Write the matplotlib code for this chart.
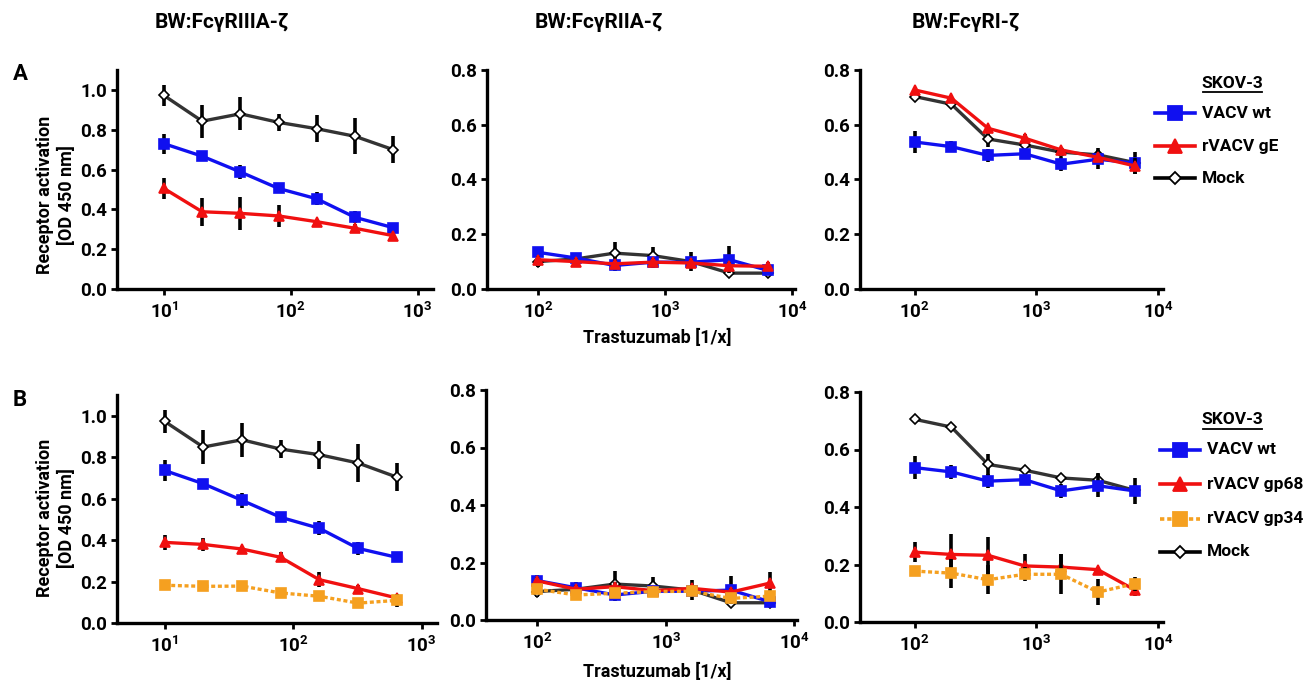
import numpy as np
import matplotlib
matplotlib.use("Agg")
import matplotlib.pyplot as plt
from matplotlib.lines import Line2D
from matplotlib.ticker import FixedLocator, NullLocator

FONT = 'Roboto'
plt.rcParams['font.family'] = [FONT, 'DejaVu Sans']
plt.rcParams['font.weight'] = 'bold'
plt.rcParams['mathtext.fontset'] = 'custom'
plt.rcParams['mathtext.rm'] = FONT + ':bold'
plt.rcParams['mathtext.bf'] = FONT + ':bold'
plt.rcParams['mathtext.it'] = FONT + ':bold'

# dilutions (1/x)
dil_left = [10, 20, 40, 80, 160, 320, 640]
dil_right = [100, 200, 400, 800, 1600, 3200, 6400]

titles = ["BW:FcγRIIIA-ζ", "BW:FcγRIIA-ζ", "BW:FcγRI-ζ"]

# ---- panel A ----
A_wt = [[0.730, 0.667, 0.588, 0.505, 0.453, 0.360, 0.308],
        [0.134, 0.113, 0.086, 0.098, 0.098, 0.107, 0.068],
        [0.537, 0.520, 0.488, 0.494, 0.456, 0.474, 0.460]]
A_wt_err = [[0.050, 0.020, 0.035, 0.025, 0.033, 0.030, 0.010],
            [0.020, 0.020, 0.020, 0.020, 0.020, 0.050, 0.010],
            [0.040, 0.020, 0.025, 0.010, 0.025, 0.035, 0.040]]
A_gE = [[0.505, 0.388, 0.380, 0.367, 0.338, 0.305, 0.268],
        [0.107, 0.100, 0.092, 0.098, 0.095, 0.085, 0.083],
        [0.727, 0.697, 0.587, 0.551, 0.508, 0.481, 0.450]]
A_gE_err = [[0.055, 0.070, 0.083, 0.055, 0.010, 0.020, 0.010],
            [0.015, 0.015, 0.015, 0.015, 0.015, 0.015, 0.015],
            [0.010, 0.010, 0.010, 0.015, 0.010, 0.010, 0.030]]
A_mock = [[0.972, 0.843, 0.880, 0.837, 0.805, 0.767, 0.700],
          [0.100, 0.110, 0.131, 0.122, 0.100, 0.058, 0.058],
          [0.703, 0.675, 0.548, 0.526, 0.500, 0.490, 0.462]]
A_mock_err = [[0.055, 0.083, 0.083, 0.043, 0.067, 0.090, 0.067],
              [0.020, 0.020, 0.040, 0.030, 0.035, 0.010, 0.005],
              [0.010, 0.010, 0.030, 0.010, 0.010, 0.025, 0.010]]

# ---- panel B ----
B_wt = [[0.736, 0.672, 0.592, 0.510, 0.457, 0.360, 0.317],
        [0.137, 0.112, 0.087, 0.100, 0.100, 0.104, 0.064],
        [0.537, 0.522, 0.490, 0.495, 0.456, 0.474, 0.456]]
B_wt_err = [[0.050, 0.020, 0.035, 0.025, 0.033, 0.030, 0.010],
            [0.020, 0.020, 0.020, 0.020, 0.020, 0.050, 0.010],
            [0.040, 0.025, 0.025, 0.010, 0.025, 0.040, 0.045]]
B_gp68 = [[0.389, 0.379, 0.357, 0.317, 0.209, 0.166, 0.121],
          [0.136, 0.107, 0.116, 0.102, 0.110, 0.097, 0.128],
          [0.243, 0.235, 0.232, 0.195, 0.191, 0.182, 0.112]]
B_gp68_err = [[0.035, 0.030, 0.015, 0.025, 0.035, 0.015, 0.020],
              [0.015, 0.015, 0.015, 0.015, 0.015, 0.015, 0.040],
              [0.035, 0.070, 0.065, 0.040, 0.045, 0.010, 0.020]]
B_gp34 = [[0.182, 0.177, 0.178, 0.145, 0.129, 0.096, 0.109],
          [0.107, 0.087, 0.093, 0.099, 0.100, 0.075, 0.083],
          [0.177, 0.170, 0.147, 0.166, 0.166, 0.104, 0.133]]
B_gp34_err = [[0.010, 0.010, 0.010, 0.010, 0.020, 0.025, 0.030],
              [0.015, 0.015, 0.015, 0.015, 0.015, 0.015, 0.015],
              [0.010, 0.050, 0.050, 0.025, 0.070, 0.045, 0.025]]
B_mock = [[0.973, 0.849, 0.884, 0.839, 0.812, 0.772, 0.704],
          [0.099, 0.107, 0.125, 0.118, 0.104, 0.060, 0.060],
          [0.705, 0.678, 0.548, 0.528, 0.501, 0.493, 0.458]]
B_mock_err = [[0.055, 0.083, 0.083, 0.043, 0.067, 0.090, 0.067],
              [0.020, 0.020, 0.045, 0.030, 0.035, 0.010, 0.005],
              [0.010, 0.010, 0.035, 0.010, 0.010, 0.025, 0.010]]

BLUE = "#1010f0"
RED = "#f01010"
ORANGE = "#f5a020"
GREY = "#333333"

W, H = 1305, 683
fig = plt.figure(figsize=(W / 100, H / 100), dpi=100)


def px_axes(x0, y0, x1, y1):
    return fig.add_axes([x0 / W, 1 - y1 / H, (x1 - x0) / W, (y1 - y0) / H])


# pixel boxes (left, top, right, bottom)
boxes_A = [(117, 70, 433, 289), (487, 70, 795, 289), (860, 70, 1163, 289)]
boxes_B = [(117, 395, 437, 623), (486, 390, 797, 620), (860, 392, 1163, 622)]
xlims = [(10 ** 0.63, 10 ** 3.12), (10 ** 1.6, 10 ** 4.02), (10 ** 1.55, 10 ** 4.04)]
ylims = [(0, 1.1), (0, 0.8), (0, 0.8)]


def style(ax, i):
    ax.set_xscale("log")
    ax.set_xlim(*xlims[i])
    ax.set_ylim(*ylims[i])
    for s in ["top", "right"]:
        ax.spines[s].set_visible(False)
    for s in ["left", "bottom"]:
        ax.spines[s].set_linewidth(2.4)
    if i == 0:
        ticks = [10, 100, 1000]
        ax.set_yticks([0, 0.2, 0.4, 0.6, 0.8, 1.0])
    else:
        ticks = [100, 1000, 10000]
        ax.set_yticks([0, 0.2, 0.4, 0.6, 0.8])
    ax.xaxis.set_major_locator(FixedLocator(ticks))
    ax.xaxis.set_minor_locator(NullLocator())
    ax.set_xticklabels([r"$10^{%d}$" % int(np.log10(t)) for t in ticks])
    ax.set_yticklabels(["%.1f" % v for v in ax.get_yticks()])
    ax.tick_params(width=2.0, length=4, labelsize=13.5, pad=3)
    ax.tick_params(axis="x", pad=5)
    for lab in ax.get_yticklabels() + ax.get_xticklabels():
        lab.set_fontweight("bold")


def series(ax, x, y, e, color, marker, ms, ls="-", mfc=None, z=3):
    ax.errorbar(x, y, yerr=e, fmt="none", ecolor="black", elinewidth=2.6,
                capsize=0, zorder=z - 0.5)
    ax.plot(x, y, color=color, linestyle=ls, linewidth=2.4, marker=marker,
            markersize=ms, markerfacecolor=mfc if mfc else color,
            markeredgecolor=color if mfc is None else "black",
            markeredgewidth=1.2, zorder=z)


for i in range(3):
    x = dil_left if i == 0 else dil_right
    ax = px_axes(*boxes_A[i])
    style(ax, i)
    series(ax, x, A_mock[i], A_mock_err[i], GREY, "D", 5, mfc="white", z=3)
    series(ax, x, A_wt[i], A_wt_err[i], BLUE, "s", 7, z=4)
    series(ax, x, A_gE[i], A_gE_err[i], RED, "^", 7, z=5)

    axb = px_axes(*boxes_B[i])
    style(axb, i)
    series(axb, x, B_mock[i], B_mock_err[i], GREY, "D", 5, mfc="white", z=3)
    series(axb, x, B_wt[i], B_wt_err[i], BLUE, "s", 7, z=4)
    series(axb, x, B_gp68[i], B_gp68_err[i], RED, "^", 7, z=5)
    series(axb, x, B_gp34[i], B_gp34_err[i], ORANGE, "s", 7, ls=(0, (1.2, 0.8)), z=6)

# y labels
for yy in [195, 518]:
    fig.text(56 / W, 1 - yy / H, "Receptor activation\n[OD 450 nm]", rotation=90,
             ha="center", va="center", fontsize=13, fontweight="bold",
             linespacing=1.3)

# column titles
for t, cx in zip(titles, [222, 599, 966]):
    fig.text(cx / W, 1 - 22 / H, t, ha="center", va="center", fontsize=15,
             fontweight="bold")

# panel letters
fig.text(20 / W, 1 - 74 / H, "A", ha="center", va="center", fontsize=16, fontweight="bold")
fig.text(20 / W, 1 - 400 / H, "B", ha="center", va="center", fontsize=16, fontweight="bold")

# x labels
for yy in [338, 672]:
    fig.text(657 / W, 1 - yy / H, "Trastuzumab [1/x]", ha="center", va="center",
             fontsize=13, fontweight="bold")


def legend_block(x_handle, y_title, ys, labels, styles):
    fig.text(1232 / W, 1 - y_title / H, "SKOV-3", ha="center", va="center",
             fontsize=12.5, fontweight="bold")
    fig.add_artist(Line2D([1203 / W, 1262 / W], [1 - (y_title + 9) / H] * 2,
                          color="black", linewidth=1.3))
    for yy, lab, st in zip(ys, labels, styles):
        color, marker, ms, ls, mfc, mec = st
        fig.add_artist(Line2D([x_handle / W, (x_handle + 40) / W], [1 - yy / H] * 2,
                              color=color, linewidth=2.6, linestyle=ls))
        fig.add_artist(Line2D([(x_handle + 20) / W], [1 - yy / H], marker=marker,
                              markersize=ms, markerfacecolor=mfc,
                              markeredgecolor=mec, markeredgewidth=1.3,
                              linestyle="none"))
        fig.text((x_handle + 47) / W, 1 - yy / H, lab, ha="left", va="center",
                 fontsize=12.5, fontweight="bold")


legend_block(1155, 83, [113, 146, 178], ["VACV wt", "rVACV gE", "Mock"],
             [(BLUE, "s", 10, "-", BLUE, BLUE),
              (RED, "^", 10, "-", RED, RED),
              ("black", "D", 6, "-", "white", "black")])
legend_block(1160, 420, [450, 484, 519, 552],
             ["VACV wt", "rVACV gp68", "rVACV gp34", "Mock"],
             [(BLUE, "s", 10, "-", BLUE, BLUE),
              (RED, "^", 10, "-", RED, RED),
              (ORANGE, "s", 10, (0, (1.2, 0.8)), ORANGE, ORANGE),
              ("black", "D", 6, "-", "white", "black")])

fig.savefig("out.png", dpi=100)
